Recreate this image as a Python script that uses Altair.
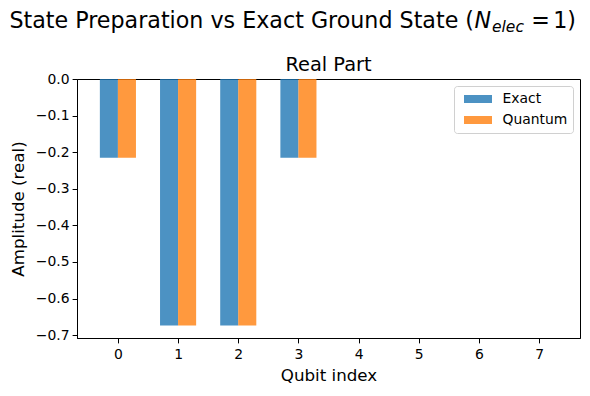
import altair as alt
import pandas as pd

qubits = [0, 1, 2, 3, 4, 5, 6, 7]
exact = [-0.2151, -0.6737, -0.6737, -0.2151, 0.0, 0.0, 0.0, 0.0]
quantum = [-0.2151, -0.6737, -0.6737, -0.2151, 0.0, 0.0, 0.0, 0.0]
series = ["Exact", "Quantum"]
colors = ["#1f77b4", "#ff7f0e"]
y_ticks = [0.0, -0.1, -0.2, -0.3, -0.4, -0.5, -0.6, -0.7]

rows = []
for i, q in enumerate(qubits):
    rows.append({"qubit": q, "series": "Exact", "value": exact[i], "order": 0})
    rows.append({"qubit": q, "series": "Quantum", "value": quantum[i], "order": 1})
df = pd.DataFrame(rows)

FONT = "DejaVu Sans"
bar_w = 0.3

bars = alt.Chart(df).transform_calculate(
    x0=f"datum.qubit + (datum.order - 1) * {bar_w}",
    x1=f"datum.qubit + datum.order * {bar_w}",
).mark_bar(opacity=0.8).encode(
    x=alt.X("x0:Q",
            scale=alt.Scale(domain=[-0.68, 7.68], nice=False, zero=False),
            axis=alt.Axis(values=qubits, format="d", title="Qubit index")),
    x2="x1:Q",
    y=alt.Y("value:Q",
            scale=alt.Scale(domain=[-0.7077, 0.0], nice=False),
            axis=alt.Axis(values=y_ticks, format=".1f", title="Amplitude (real)")),
    y2=alt.datum(0),
    color=alt.Color("series:N",
                    scale=alt.Scale(domain=series, range=colors),
                    legend=alt.Legend(title=None, orient="top-right")),
)

sup_y = -51


def sup_text(t, x, y, size=22.2, style="normal", align="left"):
    return alt.Chart(pd.DataFrame({"t": [t]})).mark_text(
        font=FONT, fontSize=size, fontStyle=style, align=align,
        baseline="alphabetic", color="black"
    ).encode(text="t:N", x=alt.value(x), y=alt.value(y))


sup_main = sup_text("State Preparation vs Exact Ground State (", 397, sup_y, align="right")
sup_n = sup_text("N", 397.5, sup_y, style="italic")
sup_sub = sup_text("elec", 415, sup_y + 4, size=15.5, style="italic")
sup_eq = sup_text("=", 463.5, sup_y, align="center")
sup_end = sup_text("1)", 499, sup_y, align="right")

panel_title = sup_text("Real Part", 251.5, -8, size=19.4, align="center")

chart = alt.layer(bars, sup_main, sup_n, sup_sub, sup_eq, sup_end, panel_title).properties(
    width=503,
    height=259,
    autosize=alt.AutoSizeParams(type="none"),
    padding={"left": 69, "top": 71, "right": 2, "bottom": 50},
).configure_view(
    stroke="black", strokeWidth=1
).configure_axis(
    labelFont=FONT, labelFontSize=13.9, labelColor="black",
    titleFont=FONT, titleFontSize=16.7, titleFontWeight="normal", titleColor="black",
    domainColor="black", tickColor="black", tickSize=4.9, labelPadding=3,
    grid=False,
).configure_axisX(
    titlePadding=6, labelAngle=0, labelPadding=4.5
).configure_axisY(
    titlePadding=8
).configure_legend(
    labelFont=FONT, labelFontSize=13.9, labelColor="black",
    symbolType="M-1.867,-0.533L1.867,-0.533L1.867,0.533L-1.867,0.533Z",
    symbolSize=225, symbolStrokeWidth=0, symbolOpacity=0.8,
    symbolOffset=11, labelOffset=17, rowPadding=6,
    strokeColor="#d0d0d0", fillColor="white", cornerRadius=3, padding=5.5,
    offset=7,
)

chart.save("out.html", embed_options={"renderer": "svg", "actions": False})
